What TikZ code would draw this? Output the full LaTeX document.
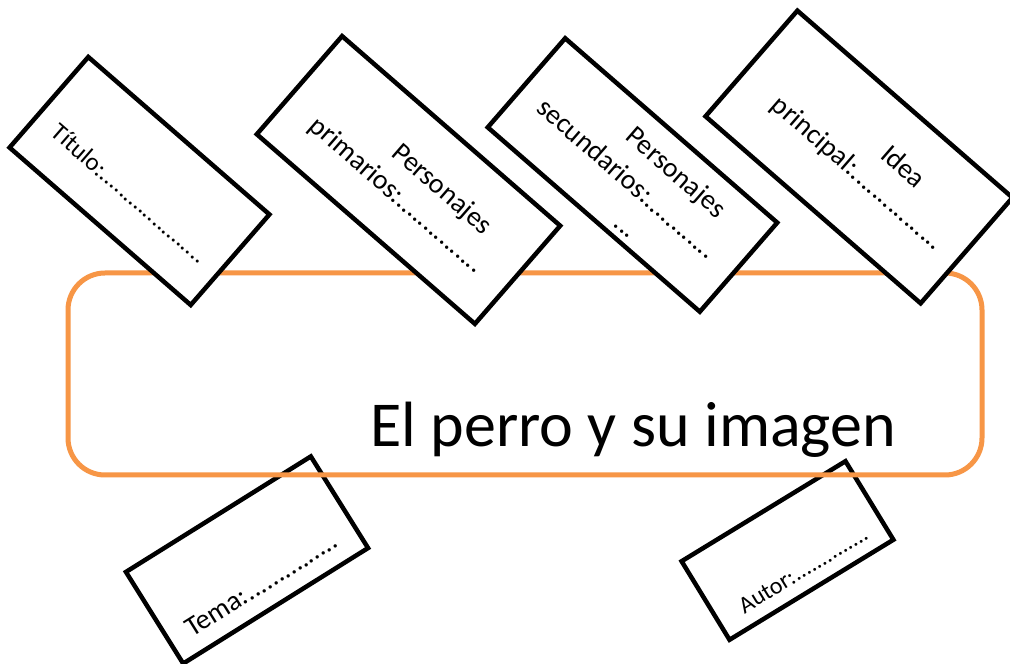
\documentclass[tikz,border=0pt]{standalone}
\usepackage{fontspec}
\setmainfont{Carlito}
\definecolor{frameorange}{RGB}{247,150,70}
\begin{document}
\begin{tikzpicture}[x=1pt,y=1pt,
  card/.style={draw=black, line width=4.5pt, fill=white, inner sep=0pt},
  txt/.style={inner sep=0pt, text=black, font=\fontsize{28}{34}\selectfont},
  smalltxt/.style={inner sep=0pt, text=black, font=\fontsize{25}{30}\selectfont},
  autortxt/.style={inner sep=0pt, text=black, font=\fontsize{24}{29}\selectfont}]
\clip (0,0) rectangle (1010,664);
\fill[white] (0,0) rectangle (1010,664);
% bottom cards (behind the frame)
\begin{scope}[shift={(247,104)}, rotate=32]
  \node[card, transform shape, minimum width=218pt, minimum height=108pt] (tema) at (0,0) {};
  \node[txt, transform shape, anchor=base west] (tematxt) at (-88,-37) {Tema:...............};
\end{scope}
\begin{scope}[shift={(787.5,113.5)}, rotate=31.4]
  \node[card, transform shape, minimum width=192pt, minimum height=92pt] (autor) at (0,0) {};
  \node[autortxt, transform shape, anchor=base west] (autortext) at (-70,-32) {Autor:..............};
\end{scope}
% frame and title
\node[draw=frameorange, line width=5pt, rounded corners=37pt, minimum width=914pt, minimum height=202pt, inner sep=0pt] (frame) at (525,290) {};
\node[inner sep=0pt, anchor=base west, font=\fontsize{64}{76}\selectfont] (title) at (370,217) {El perro y su imagen};
% top cards
\begin{scope}[shift={(139.5,483)}, rotate=-41]
  \node[card, transform shape, minimum width=240pt, minimum height=120pt] (titulo) at (0,0) {};
  \node[smalltxt, transform shape, anchor=base west] (titulotxt) at (-98,-24) {Título:.....................};
\end{scope}
\begin{scope}[shift={(408.5,484)}, rotate=-41]
  \node[card, transform shape, minimum width=289pt, minimum height=130pt] (prim) at (0,0) {};
  \node[txt, transform shape, anchor=base west] (primA) at (-30,7) {Personajes};
  \node[txt, transform shape, anchor=base west] (primB) at (-110,-27) {primarios:...............};
\end{scope}
\begin{scope}[shift={(632.5,489)}, rotate=-41]
  \node[card, transform shape, minimum width=281pt, minimum height=118pt] (sec) at (0,0) {};
  \node[txt, transform shape, anchor=base west] (secA) at (-30,22) {Personajes};
  \node[txt, transform shape, anchor=base west] (secB) at (-116,-15) {secundarios:............};
  \node[txt, transform shape, anchor=base west] (secC) at (18,-51) {...};
\end{scope}
\begin{scope}[shift={(859,507)}, rotate=-41]
  \node[card, transform shape, minimum width=285pt, minimum height=140pt] (idea) at (0,0) {};
  \node[txt, transform shape, anchor=base west] (ideaA) at (15,13) {Idea};
  \node[txt, transform shape, anchor=base west] (ideaB) at (-100,-21) {principal:................};
\end{scope}
\end{tikzpicture}
\end{document}
